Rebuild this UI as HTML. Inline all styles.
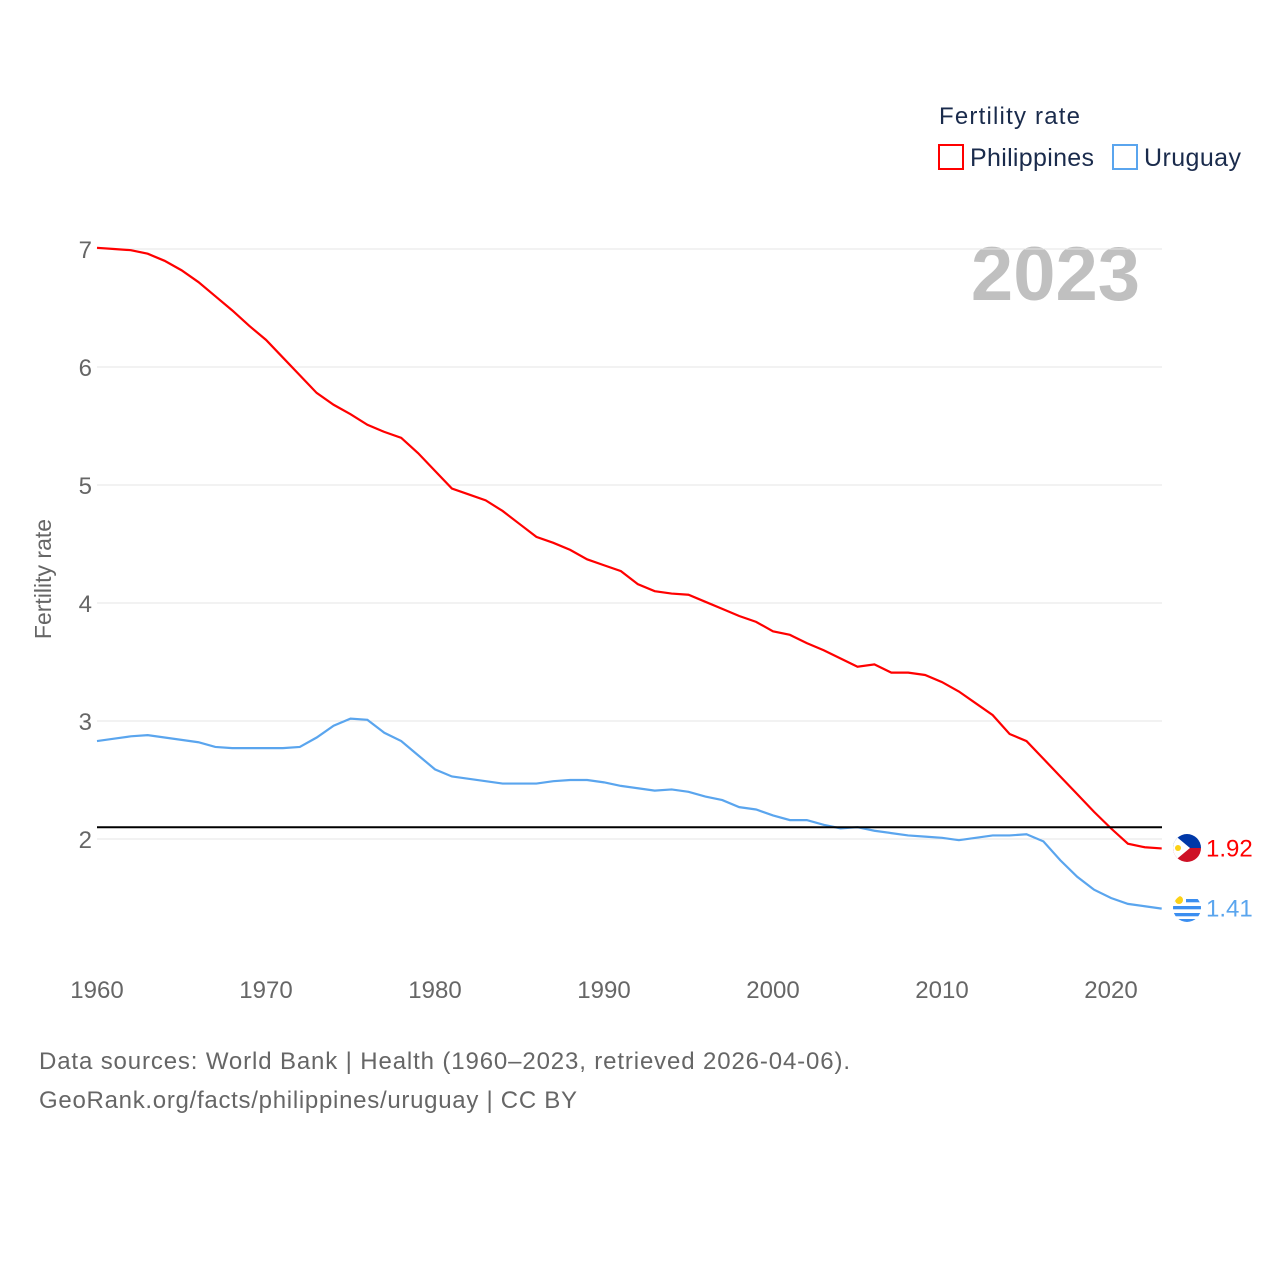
<!DOCTYPE html>
<html><head><meta charset="utf-8"><style>
body{margin:0;background:#fff;font-family:"Liberation Sans",sans-serif}
svg text{font-family:"Liberation Sans",sans-serif}
</style></head><body>
<svg id="chart" width="1280" height="1280" viewBox="0 0 1280 1280" xmlns="http://www.w3.org/2000/svg">
<rect width="1280" height="1280" fill="#fff"/>
<text x="939" y="124" font-size="24" fill="#1a2b4c" textLength="141">Fertility rate</text>
<g><rect x="939" y="145" width="24" height="24" fill="none" stroke="#f00" stroke-width="2"/><text x="970" y="166" font-size="25" fill="#1a2b4c" textLength="124">Philippines</text></g>
<g><rect x="1113" y="145" width="24" height="24" fill="none" stroke="#5aa5ee" stroke-width="2"/><text x="1144" y="166" font-size="25" fill="#1a2b4c" textLength="97">Uruguay</text></g>
<text x="1140" y="300" font-size="76" font-weight="bold" fill="#c0c0c0" text-anchor="end">2023</text>
<text transform="translate(51,579) rotate(-90)" font-size="23" fill="#666" text-anchor="middle">Fertility rate</text>
<g id="grid"></g><g id="xticks"></g><g id="series"></g>
<g>
<clipPath id="cp1"><circle cx="1187" cy="848" r="14"/></clipPath>
<g clip-path="url(#cp1)"><rect x="1172" y="833" width="30" height="15" fill="#0038a8"/><rect x="1172" y="848" width="30" height="15" fill="#ce1126"/><polygon points="1172,833 1172,863 1190,848" fill="#fff"/><circle cx="1178" cy="848" r="3" fill="#fcd116"/></g></g>
<g>
<clipPath id="cp2"><circle cx="1187" cy="908" r="14"/></clipPath>
<g clip-path="url(#cp2)"><rect x="1172" y="893" width="30" height="30" fill="#fff"/><rect x="1172" y="899" width="30" height="3.3" fill="#3b8ef0"/><rect x="1172" y="906" width="30" height="3.3" fill="#3b8ef0"/><rect x="1172" y="913" width="30" height="3.3" fill="#3b8ef0"/><rect x="1172" y="919" width="30" height="3.3" fill="#3b8ef0"/><rect x="1172" y="893" width="14" height="13" fill="#fff"/><circle cx="1179" cy="900" r="4" fill="#fcd116"/></g></g>
<text x="39" y="1069" font-size="24" fill="#666" textLength="811">Data sources: World Bank | Health (1960–2023, retrieved 2026-04-06).</text>
<text x="39" y="1108" font-size="24" fill="#666" textLength="538">GeoRank.org/facts/philippines/uruguay | CC BY</text>
</svg>
<script>
const years=[];for(let y=1960;y<=2023;y++)years.push(y);
const philippines=[7.01,7.0,6.99,6.96,6.9,6.82,6.72,6.6,6.48,6.35,6.23,6.08,5.93,5.78,5.68,5.6,5.51,5.45,5.4,5.27,5.12,4.97,4.92,4.87,4.78,4.67,4.56,4.51,4.45,4.37,4.32,4.27,4.16,4.1,4.08,4.07,4.01,3.95,3.89,3.84,3.76,3.73,3.66,3.6,3.53,3.46,3.48,3.41,3.41,3.39,3.33,3.25,3.15,3.05,2.89,2.83,2.68,2.53,2.38,2.23,2.09,1.96,1.93,1.92];
const uruguay=[2.83,2.85,2.87,2.88,2.86,2.84,2.82,2.78,2.77,2.77,2.77,2.77,2.78,2.86,2.96,3.02,3.01,2.9,2.83,2.71,2.59,2.53,2.51,2.49,2.47,2.47,2.47,2.49,2.5,2.5,2.48,2.45,2.43,2.41,2.42,2.4,2.36,2.33,2.27,2.25,2.2,2.16,2.16,2.12,2.09,2.1,2.07,2.05,2.03,2.02,2.01,1.99,2.01,2.03,2.03,2.04,1.98,1.82,1.68,1.57,1.5,1.45,1.43,1.41];
const yTicks=[2,3,4,5,6,7];
const xTicks=[1960,1970,1980,1990,2000,2010,2020];
const replacement=2.1;
const NS="http://www.w3.org/2000/svg";
const X=y=>97+(y-1960)*(1014/60);
const Y=v=>839-(v-2)*118;
function mk(t,a,p){const e=document.createElementNS(NS,t);for(const k in a)e.setAttribute(k,a[k]);p.appendChild(e);return e;}
const grid=document.getElementById('grid');
yTicks.forEach(v=>{
 const l=mk('line',{x1:97,x2:1162,y1:Y(v),y2:Y(v),stroke:'#e6e6e6','stroke-width':1},grid);
 
 
 const t=mk('text',{x:92,y:Y(v)+9,'font-size':24,fill:'#666','text-anchor':'end'},grid);t.textContent=v;
 
 
});
const xg=document.getElementById('xticks');
xTicks.forEach(v=>{
 const t=mk('text',{x:X(v),y:998,'font-size':24,fill:'#666','text-anchor':'middle'},xg);t.textContent=v;
 
 
});
const sg=document.getElementById('series');
function line(vals,col,name){
 const p=mk('polyline',{points:vals.map((v,i)=>X(years[i])+','+Y(v)).join(' '),fill:'none',stroke:col,'stroke-width':2.2},sg);
 
 
}
line(uruguay,'#5aa5ee','uruguay-line');
line(philippines,'#f00','philippines-line');
const rl=mk('line',{x1:97,x2:1162,y1:Y(replacement),y2:Y(replacement),stroke:'#000','stroke-width':2},sg);


const lp=mk('text',{x:1206,y:Y(philippines[63])+8,'font-size':24,fill:'#f00'},sg);lp.textContent=philippines[63].toFixed(2);


const lu=mk('text',{x:1206,y:Y(uruguay[63])+8,'font-size':24,fill:'#5aa5ee'},sg);lu.textContent=uruguay[63].toFixed(2);


</script>
</body></html>
